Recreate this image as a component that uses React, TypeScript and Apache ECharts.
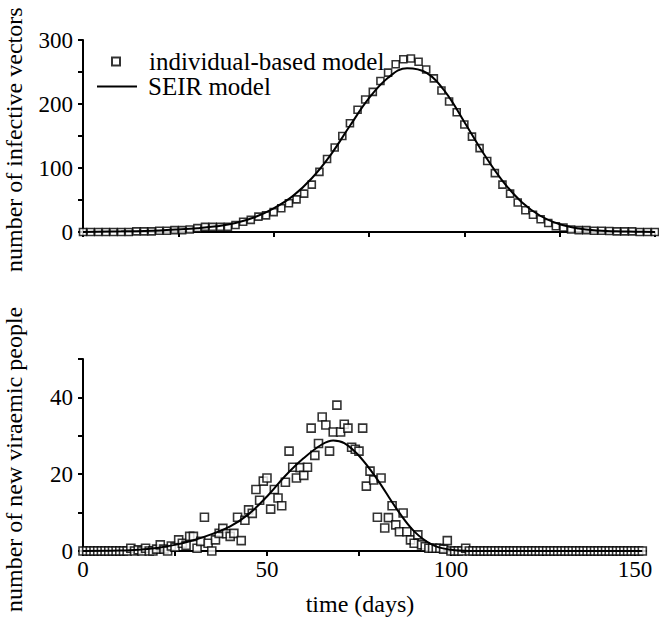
import React, { useEffect, useRef } from "react";
import * as echarts from "echarts";

const FONT = "Liberation Serif, Times New Roman, serif";

// Top panel: infective vectors, individual-based model (every 2 days, day 0..150)
const topDays: number[] = [
  0, 2, 4, 6, 8, 10, 12, 14, 16, 18, 20, 22, 24, 26, 28, 30, 32, 34, 36, 38,
  40, 42, 44, 46, 48, 50, 52, 54, 56, 58, 60, 62, 64, 66, 68, 70, 72, 74, 76, 78,
  80, 82, 84, 86, 88, 90, 92, 94, 96, 98, 100, 102, 104, 106, 108, 110, 112, 114, 116, 118,
  120, 122, 124, 126, 128, 130, 132, 134, 136, 138, 140, 142, 144, 146, 148, 150,
];
const topIBM: number[] = [
  0, 0, 0, 0, 0, 0, 0, 1, 1, 1, 2, 2, 3, 3, 4, 6, 8, 8, 8, 8,
  11, 16, 19, 24, 26, 31, 37, 45, 51, 60, 74, 94, 114, 132, 150, 170, 191, 207, 219, 236,
  249, 262, 270, 271, 266, 254, 240, 221, 204, 187, 168, 149, 131, 111, 92, 74, 60, 46, 34, 27,
  20, 14, 9, 7, 4, 3, 3, 2, 2, 1.5, 1, 1, 1, 0, 0, 0,
];
// Top panel: SEIR model curve
const topSeirDays: number[] = [0, 10, 20, 25, 30, 35, 40, 45, 50, 55, 60, 65, 70, 75, 80, 85, 90, 95, 100, 105, 110, 115, 120, 125, 130, 135, 140, 145, 150];
const topSeir: number[] = [0, 1, 2.5, 4, 6, 9, 14, 23, 37, 56, 84, 121, 166, 209, 241, 256, 249, 219, 172, 123, 80, 47, 25, 12, 5.5, 2.5, 1, 0.5, 0];

// Bottom panel: new viraemic people, individual-based model (daily, day 0..152)
const botIBM: number[] = [
  0, 0, 0, 0, 0, 0, 0, 0, 0, 0, 0, 0, 0, 0.7, 0, 0.3, 0, 0.7, 0, 0,
  0.5, 1.6, 0.5, 0, 1.3, 1, 2.9, 2, 1.5, 3.8, 3.8, 0.7, 2.5, 8.8, 2, 0, 2.9, 4.6, 5.9, 4.5,
  3.8, 4.6, 8.8, 2.7, 8, 10.7, 9.8, 16, 13.2, 18.2, 19, 10.9, 16, 13.8, 11.8, 17.9, 26, 21.8, 19, 21.7,
  19.7, 21.8, 32, 24.9, 28, 34.9, 32.8, 26, 31, 38, 31, 33, 32, 27, 26.5, 26, 32, 16.9, 20.8, 18.5,
  8.8, 19, 6, 8.7, 11.8, 6.8, 5, 9.9, 5, 2.9, 2, 4.2, 1.6, 1.1, 0.7, 0.7, 0.7, 0.7, 0.5, 2.7,
  0, 0, 0, 0, 0.7, 0, 0, 0, 0, 0, 0, 0, 0, 0, 0, 0, 0, 0, 0, 0,
  0, 0, 0, 0, 0, 0, 0, 0, 0, 0, 0, 0, 0, 0, 0, 0, 0, 0, 0, 0,
  0, 0, 0, 0, 0, 0, 0, 0, 0, 0, 0, 0, 0,
];
// Bottom panel: SEIR model curve
const botSeirDays: number[] = [0, 10, 15, 20, 25, 30, 35, 40, 45, 50, 55, 60, 65, 68, 71, 75, 80, 85, 90, 95, 100, 105, 110, 120, 130, 140, 152];
const botSeir: number[] = [0, 0.1, 0.3, 0.8, 1.6, 2.8, 4.4, 6.4, 9.6, 14.2, 19.6, 24.2, 27.8, 28.8, 28.1, 24.8, 18.6, 11.3, 5.1, 1.6, 0.3, 0, 0, 0, 0, 0, 0];

const topXTicks = [0, 25, 50, 75, 100, 125, 150];
const topYTicks = [0, 50, 100, 150, 200, 250, 300];
const topYLabels = [0, 100, 200, 300];
const botXTicks = [0, 25, 50, 75, 100, 125, 150];
const botXLabels = [0, 50, 100, 150];
const botYTicks = [0, 10, 20, 30, 40, 50];
const botYLabels = [0, 20, 40];

const NAME_IBM = "individual-based model";
const NAME_SEIR = "SEIR model";

export default function App() {
  const ref = useRef<HTMLDivElement>(null);

  useEffect(() => {
    document.body.style.margin = "0";
    if (!ref.current) return;
    const chart = echarts.init(ref.current, undefined, { renderer: "svg" });

    const axisLine = { show: true, onZero: false, lineStyle: { color: "#000", width: 2 } };
    const axisTick = (vals: number[]) => ({
      show: true,
      inside: false,
      length: 5,
      customValues: vals,
      lineStyle: { color: "#000", width: 2 },
    });
    const axisLabel = (vals: number[], margin: number) => ({
      show: true,
      customValues: vals,
      fontSize: 23,
      fontFamily: FONT,
      color: "#000",
      margin,
    });

    const scatterStyle = { color: "#fff", borderColor: "#000", borderWidth: 1.6 };
    const lineStyle = { color: "#000", width: 2 };
    const nameText = { font: `24px ${FONT}`, fill: "#000", textVerticalAlign: "middle" };

    const option: any = {
      animation: false,
      textStyle: { fontFamily: FONT, color: "#000" },
      grid: [
        { left: 83, top: 40, width: 572, height: 192 },
        { left: 83, top: 359, width: 563, height: 192 },
      ],
      xAxis: [
        {
          gridIndex: 0,
          type: "value",
          min: 0,
          max: 150,
          interval: 25,
          axisLine,
          axisTick: axisTick(topXTicks),
          axisLabel: { show: false },
          splitLine: { show: false },
        },
        {
          gridIndex: 1,
          type: "value",
          min: 0,
          max: 153,
          interval: 25,
          axisLine,
          axisTick: axisTick(botXTicks),
          axisLabel: axisLabel(botXLabels, 7),
          splitLine: { show: false },
        },
      ],
      yAxis: [
        {
          gridIndex: 0,
          type: "value",
          min: 0,
          max: 300,
          interval: 50,
          axisLine,
          axisTick: axisTick(topYTicks),
          axisLabel: axisLabel(topYLabels, 10),
          splitLine: { show: false },
        },
        {
          gridIndex: 1,
          type: "value",
          min: 0,
          max: 50,
          interval: 10,
          axisLine,
          axisTick: axisTick(botYTicks),
          axisLabel: axisLabel(botYLabels, 10),
          splitLine: { show: false },
        },
      ],
      legend: [
        {
          data: [NAME_IBM],
          left: 111,
          top: 49,
          padding: 0,
          itemWidth: 8,
          itemHeight: 8,
          selectedMode: false,
          textStyle: { fontSize: 25, fontFamily: FONT, color: "#000", padding: [0, 0, 0, 24] },
        },
        {
          data: [{ name: NAME_SEIR, icon: "rect" }],
          left: 97,
          top: 74,
          padding: 0,
          itemWidth: 40,
          itemHeight: 2,
          selectedMode: false,
          itemStyle: { color: "#000" },
          textStyle: { fontSize: 25, fontFamily: FONT, color: "#000", padding: [0, 0, 0, 6] },
        },
      ],
      graphic: [
        {
          type: "text",
          x: 14,
          y: 272,
          rotation: Math.PI / 2,
          style: { ...nameText, text: "number of infective vectors", textAlign: "left" },
        },
        {
          type: "text",
          x: 14,
          y: 612,
          rotation: Math.PI / 2,
          style: { ...nameText, text: "number of new viraemic people", textAlign: "left" },
        },
        {
          type: "text",
          x: 360,
          y: 604,
          style: { ...nameText, text: "time (days)", textAlign: "center" },
        },
      ],
      series: [
        {
          name: NAME_IBM,
          type: "scatter",
          xAxisIndex: 0,
          yAxisIndex: 0,
          symbol: "rect",
          symbolSize: 7,
          itemStyle: scatterStyle,
          data: topDays.map((d, i) => [d, topIBM[i]]),
          z: 2,
        },
        {
          name: NAME_SEIR,
          type: "line",
          xAxisIndex: 0,
          yAxisIndex: 0,
          symbol: "none",
          smooth: 0.4,
          lineStyle,
          itemStyle: { color: "#000" },
          data: topSeirDays.map((d, i) => [d, topSeir[i]]),
          z: 3,
        },
        {
          name: NAME_IBM,
          type: "scatter",
          xAxisIndex: 1,
          yAxisIndex: 1,
          symbol: "rect",
          symbolSize: 8,
          itemStyle: scatterStyle,
          data: botIBM.map((v, i) => [i, v]),
          z: 2,
        },
        {
          name: NAME_SEIR,
          type: "line",
          xAxisIndex: 1,
          yAxisIndex: 1,
          symbol: "none",
          smooth: 0.4,
          lineStyle,
          itemStyle: { color: "#000" },
          data: botSeirDays.map((d, i) => [d, botSeir[i]]),
          z: 3,
        },
      ],
    };

    chart.setOption(option);
    return () => chart.dispose();
  }, []);

  return <div ref={ref} style={{ width: 659, height: 617 }} />;
}
